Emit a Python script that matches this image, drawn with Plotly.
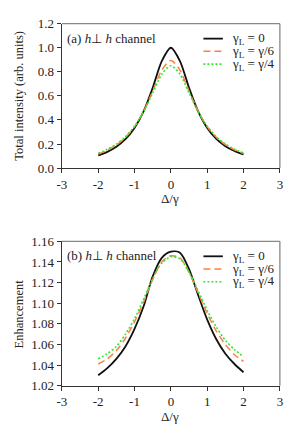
import plotly.graph_objects as go

# ---- data ----
detuning = [-2, -1.75, -1.5, -1.25, -1, -0.75, -0.5, -0.25, 0, 0.25, 0.5, 0.75, 1, 1.25, 1.5, 1.75, 2]

intensity_g0 = [0.105, 0.135, 0.178, 0.240, 0.333, 0.471, 0.667, 0.889, 1.000,
                0.889, 0.667, 0.471, 0.333, 0.242, 0.182, 0.142, 0.113]
intensity_g6 = [0.116, 0.148, 0.192, 0.254, 0.344, 0.471, 0.639, 0.814, 0.895,
                0.814, 0.639, 0.471, 0.344, 0.256, 0.194, 0.152, 0.121]
intensity_g4 = [0.123, 0.156, 0.199, 0.260, 0.348, 0.469, 0.625, 0.780, 0.850,
                0.780, 0.625, 0.469, 0.348, 0.261, 0.200, 0.157, 0.125]

enh_g0 = [1.030, 1.037, 1.046, 1.058, 1.075, 1.097, 1.126, 1.144, 1.150,
          1.149, 1.133, 1.108, 1.084, 1.065, 1.051, 1.041, 1.033]
enh_g6 = [1.041, 1.046, 1.054, 1.066, 1.082, 1.101, 1.123, 1.140, 1.146,
          1.144, 1.130, 1.110, 1.090, 1.073, 1.060, 1.050, 1.0435]
enh_g4 = [1.046, 1.051, 1.058, 1.070, 1.085, 1.104, 1.124, 1.139, 1.145,
          1.143, 1.130, 1.112, 1.093, 1.077, 1.064, 1.055, 1.048]

series_names = ["γ<sub>L</sub> = 0", "γ<sub>L</sub> = γ/6", "γ<sub>L</sub> = γ/4"]
colors = ["#111111", "#FF8040", "#33E633"]
dashes = ["solid", "7px,4px", "2px,2px"]
widths = [1.8, 1.5, 1.6]

xticks = [-3, -2, -1, 0, 1, 2, 3]
xticktext = ["-3", "-2", "-1", "0", "1", "2", "3"]
yticks_a = [0.0, 0.2, 0.4, 0.6, 0.8, 1.0, 1.2]
yticks_b = [1.02, 1.04, 1.06, 1.08, 1.10, 1.12, 1.14, 1.16]

# page body has an 8px margin; figure is sized to fit inside the window
OFF = 8
W, H = 297 - 2 * OFF, 438 - 2 * OFF
FONT = "Liberation Serif"

fig = go.Figure()

panels = [
    ("x", "y", [intensity_g0, intensity_g6, intensity_g4]),
    ("x2", "y2", [enh_g0, enh_g6, enh_g4]),
]
for xa, ya, data in panels:
    for i, ys in enumerate(data):
        fig.add_trace(go.Scatter(
            x=detuning, y=ys, xaxis=xa, yaxis=ya, mode="lines",
            line=dict(color=colors[i], width=widths[i], dash=dashes[i], shape="spline", smoothing=0.8),
            showlegend=False, name=series_names[i]))

def px_x(p):
    return (p - OFF) / W

def px_y(p):
    return 1 - (p - OFF) / H

xdom = [px_x(58.3), px_x(282.7)]
ydom_a = [px_y(166.7), px_y(17)]
ydom_b = [px_y(392.3), px_y(242.7)]

axis_common = dict(
    showline=True, linecolor="#333333", linewidth=1.3, mirror=False,
    ticks="outside", ticklen=4, tickwidth=1, tickcolor="#333333",
    showgrid=False, zeroline=False,
    tickfont=dict(family=FONT, size=13, color="#222222"),
)

fig.update_layout(
    width=W, height=H,
    margin=dict(l=0, r=0, t=0, b=0),
    paper_bgcolor="white", plot_bgcolor="white",
    showlegend=False,
    font=dict(family=FONT, size=13, color="#222222"),
    xaxis=dict(domain=xdom, anchor="y", range=[-3, 3], tickvals=xticks, ticktext=xticktext, **axis_common),
    yaxis=dict(domain=ydom_a, anchor="x", range=[0, 1.2], tickvals=yticks_a, tickformat=".1f", **axis_common),
    xaxis2=dict(domain=xdom, anchor="y2", range=[-3, 3], tickvals=xticks, ticktext=xticktext, **axis_common),
    yaxis2=dict(domain=ydom_b, anchor="x2", range=[1.02, 1.16], tickvals=yticks_b, tickformat=".2f", **axis_common),
)

shapes = []
annotations = []
for k, (xa, ya, label, ytitle, top_px) in enumerate([
        ("x", "y", "(a)", "Total intensity (arb. units)", 17),
        ("x2", "y2", "(b)", "Enhancement", 242.7)]):
    bot_px = top_px + 149.7
    # gray frame (top/right)
    shapes.append(dict(type="line", xref="paper", yref="paper",
                       x0=xdom[0], x1=xdom[1], y0=px_y(top_px), y1=px_y(top_px),
                       line=dict(color="#888888", width=1.3)))
    shapes.append(dict(type="line", xref="paper", yref="paper",
                       x0=xdom[1], x1=xdom[1], y0=px_y(top_px), y1=px_y(bot_px),
                       line=dict(color="#888888", width=1.3)))
    # panel label
    annotations.append(dict(xref="paper", yref="paper", x=px_x(62), y=px_y(top_px + 15),
                            xanchor="left", yanchor="middle", showarrow=False,
                            text=label + " <i>h</i>⊥ <i>h</i> channel",
                            font=dict(family=FONT, size=13, color="#222222")))
    # axis titles
    annotations.append(dict(xref="paper", yref="paper", x=px_x(14), y=px_y((top_px + bot_px) / 2),
                            xanchor="center", yanchor="middle", showarrow=False, textangle=-90,
                            text=ytitle, font=dict(family=FONT, size=12.5, color="#222222")))
    annotations.append(dict(xref="paper", yref="paper", x=px_x(170), y=px_y(bot_px + 32),
                            xanchor="center", yanchor="middle", showarrow=False,
                            text="Δ/γ", font=dict(family=FONT, size=13, color="#222222")))
    # legend
    row0 = top_px + 15.5
    step = 13.2
    for i in range(3):
        yy = px_y(row0 + i * step)
        shapes.append(dict(type="line", xref="paper", yref="paper",
                           x0=px_x(204), x1=px_x(224), y0=yy, y1=yy,
                           line=dict(color=colors[i], width=widths[i], dash=dashes[i])))
        annotations.append(dict(xref="paper", yref="paper", x=px_x(231), y=yy,
                                xanchor="left", yanchor="middle", showarrow=False,
                                text=series_names[i],
                                font=dict(family=FONT, size=13, color="#222222")))

fig.update_layout(shapes=shapes, annotations=annotations)

fig.write_html("out.html")
